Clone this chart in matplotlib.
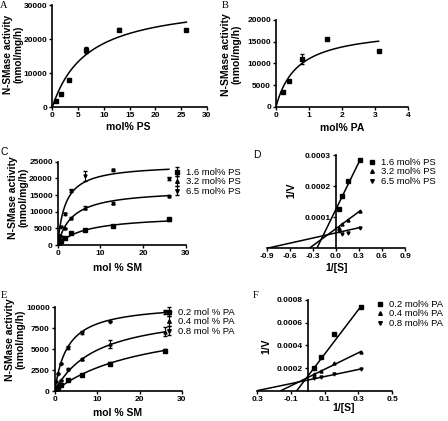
import matplotlib
matplotlib.use('Agg')
import matplotlib.pyplot as plt
import numpy as np

plt.rcParams['font.family'] = ['Liberation Sans', 'DejaVu Sans']

# ---- panel A: activity vs mol% PS
a_x = [0.8, 1.6, 3.2, 6.5, 13, 26]
a_y = [1970, 3930, 7870, 16900, 22800, 22600]
a_err = [150, 150, 200, 900, 350, 350]
a_vmax, a_km = 31500, 6.8

# ---- panel B: activity vs mol% PA
b_x = [0.2, 0.4, 0.78, 1.55, 3.1]
b_y = [3500, 5900, 11000, 15600, 12900]
b_err = [150, 250, 1200, 300, 100]
b_vmax, b_km = 18280, 0.652

# ---- panel C: activity vs mol% SM at three PS levels
sm_x = [0.4, 0.8, 1.6, 3.2, 6.5, 13, 26]
c_labels = ['1.6 mol% PS', '3.2 mol% PS', '6.5 mol% PS']
c_y16 = [700, 1300, 2200, 3500, 4500, 5800, 7700]
c_y32 = [1500, 2800, 5200, 8200, 11200, 12600, 14800]
c_y65 = [2800, 5300, 9300, 16300, 20700, 22400, 19900]
c_err16 = [0, 0, 0, 150, 200, 200, 500]
c_err32 = [0, 0, 0, 200, 400, 300, 200]
c_err65 = [0, 0, 300, 500, 1500, 200, 500]
c_vmax = [9000, 16760, 24300]
c_km = [6.5, 3.4, 1.8]

# ---- panel D: double reciprocal, PS
inv_s = [0.0385, 0.077, 0.154, 0.3125]
d_y16 = [1.26e-4, 1.67e-4, 2.18e-4, 2.83e-4]
d_y32 = [0.66e-4, 0.78e-4, 0.90e-4, 1.20e-4]
d_y65 = [0.55e-4, 0.47e-4, 0.50e-4, 0.66e-4]
d_slope = [5.06e-4, 1.82e-4, 0.552e-4]
d_icept = [1.25e-4, 0.63e-4, 0.495e-4]

# ---- panel E: activity vs mol% SM at three PA levels
e_labels = ['0.2 mol % PA', '0.4 mol % PA', '0.8 mol % PA']
e_y02 = [250, 450, 800, 1350, 1950, 3300, 4850]
e_y04 = [400, 800, 1400, 2700, 3850, 5600, 7100]
e_y08 = [1100, 2100, 3300, 5200, 7000, 8300, 9400]
e_err02 = [0, 0, 0, 100, 100, 150, 200]
e_err04 = [0, 0, 0, 100, 100, 500, 550]
e_err08 = [0, 0, 0, 200, 150, 100, 250]
e_vmax = [9000, 9800, 10480]
e_km = [22, 10, 3.054]

# ---- panel F: double reciprocal, PA
f_labels = ['0.2 mol% PA', '0.4 mol% PA', '0.8 mol% PA']
f_y02 = [2.03e-4, 3.0e-4, 4.97e-4, 7.41e-4]
f_y04 = [1.44e-4, 1.74e-4, 2.47e-4, 3.44e-4]
f_y08 = [1.15e-4, 1.25e-4, 1.45e-4, 1.91e-4]
f_slope = [19.6e-4, 7.3e-4, 3.12e-4]
f_icept = [1.27e-4, 1.16e-4, 0.936e-4]

markers = ['s', '^', 'v']
ylab = 'N-SMase activity\n(nmol/mg/h)'

fig = plt.figure(figsize=(4.48, 4.21), dpi=100)


def px_axes(x0, y0, x1, y1):
    return fig.add_axes([x0 / 448, 1 - y1 / 421, (x1 - x0) / 448, (y1 - y0) / 421])


def style(ax):
    for s in ['top', 'right']:
        ax.spines[s].set_visible(False)
    for s in ['left', 'bottom']:
        ax.spines[s].set_linewidth(1.2)
    ax.tick_params(direction='out', length=2.5, width=1, labelsize=6, pad=1)
    for t in ax.get_xticklabels() + ax.get_yticklabels():
        t.set_fontweight('bold')


def labels(ax, xl, yl, xpos, ypos, ysize=7.5):
    ax.set_xlabel(xl, fontsize=7.5, fontweight='bold', va='center')
    ax.xaxis.set_label_coords(*xpos)
    ax.set_ylabel(yl, fontsize=ysize, fontweight='bold', va='center', linespacing=1.05)
    ax.yaxis.set_label_coords(*ypos)


def mm(x, vmax, km):
    return vmax * x / (km + x)


def legend(ax, x, y):
    ax.legend(loc='upper left', bbox_to_anchor=(x / 448, 1 - y / 421), bbox_transform=fig.transFigure,
              frameon=False, fontsize=6.8, handlelength=0.6, handletextpad=0.7, labelspacing=0.05,
              borderpad=0, borderaxespad=0, markerscale=1.2)


# A
ax = px_axes(52.3, 5, 207, 107.3)
xx = np.linspace(0, 26, 200)
ax.plot(xx, mm(xx, a_vmax, a_km), color='black', lw=1.1)
ax.errorbar(a_x, a_y, yerr=a_err, fmt='s', ms=2.2, color='black', capsize=1.5, elinewidth=0.8)
ax.set_xlim(0, 30)
ax.set_ylim(0, 30000)
ax.set_xticks(range(0, 31, 5))
ax.set_yticks([0, 10000, 20000, 30000])
labels(ax, 'mol% PS', ylab, (0.49, -0.193), (-0.252, 0.52), ysize=7.2)
style(ax)

# B
ax = px_axes(276, 20, 408.3, 106.7)
xx = np.linspace(0, 3.1, 200)
ax.plot(xx, mm(xx, b_vmax, b_km), color='black', lw=1.1)
ax.errorbar(b_x, b_y, yerr=b_err, fmt='s', ms=2.2, color='black', capsize=1.5, elinewidth=0.8)
ax.set_xlim(0, 4)
ax.set_ylim(0, 20000)
ax.set_xticks(range(0, 5))
ax.set_yticks(range(0, 20001, 5000))
labels(ax, 'mol% PA', ylab, (0.5, -0.249), (-0.34, 0.6))
style(ax)

# C
ax = px_axes(57.7, 161.7, 186, 245)
xx = np.linspace(0, 26, 200)
for ys, es, vm, km, mk, lb in zip([c_y16, c_y32, c_y65], [c_err16, c_err32, c_err65],
                                  c_vmax, c_km, markers, c_labels):
    ax.plot(xx, mm(xx, vm, km), color='black', lw=1.1)
    ax.errorbar(sm_x, ys, yerr=es, fmt=mk, ms=2.2, color='black', capsize=1.5,
                elinewidth=0.8, label=lb)
ax.set_xlim(0, 30)
ax.set_ylim(0, 25000)
ax.set_xticks([0, 10, 20, 30])
ax.set_yticks(range(0, 25001, 5000))
labels(ax, 'mol % SM', ylab, (0.47, -0.272), (-0.305, 0.57))
style(ax)
legend(ax, 174, 168)

# D
ax = px_axes(266.7, 155, 405, 248.3)
for ys, m, b, mk, lb in zip([d_y16, d_y32, d_y65], d_slope, d_icept, markers, c_labels):
    x0 = -b / m
    ax.plot([x0, inv_s[-1]], [0, m * inv_s[-1] + b], color='black', lw=1.1)
    ax.plot(inv_s, ys, mk, ms=2.2, color='black', label=lb)
ax.set_xlim(-0.9, 0.9)
ax.set_ylim(0, 0.0003)
ax.spines['left'].set_position(('data', 0))
ax.set_xticks([-0.9, -0.6, -0.3, 0, 0.3, 0.6, 0.9])
ax.set_xticklabels(['-0.9', '-0.6', '-0.3', '0.0', '0.3', '0.6', '0.9'])
ax.set_yticks([0.0001, 0.0002, 0.0003])
ax.set_yticklabels(['0.0001', '0.0002', '0.0003'])
labels(ax, '1/[S]', '1/V', (0.506, -0.208), (0.181, 0.625))
style(ax)
legend(ax, 369, 158)

# E
ax = px_axes(54.7, 307.3, 182, 391.3)
for ys, es, vm, km, mk, lb in zip([e_y02, e_y04, e_y08], [e_err02, e_err04, e_err08],
                                  e_vmax, e_km, markers, e_labels):
    ax.plot(xx, mm(xx, vm, km), color='black', lw=1.1)
    ax.errorbar(sm_x, ys, yerr=es, fmt=mk, ms=2.2, color='black', capsize=1.5,
                elinewidth=0.8, label=lb)
ax.set_xlim(0, 30)
ax.set_ylim(0, 10000)
ax.set_xticks([0, 10, 20, 30])
ax.set_yticks(range(0, 10001, 2500))
labels(ax, 'mol % SM', ylab, (0.49, -0.262), (-0.308, 0.62))
style(ax)
legend(ax, 166, 308)

# F
ax = px_axes(257, 300, 392.3, 390.7)
for ys, m, b, mk, lb in zip([f_y02, f_y04, f_y08], f_slope, f_icept, markers, f_labels):
    x0 = -b / m
    ax.plot([x0, inv_s[-1]], [0, m * inv_s[-1] + b], color='black', lw=1.1)
    ax.plot(inv_s, ys, mk, ms=2.2, color='black', label=lb)
ax.set_xlim(-0.3, 0.5)
ax.set_ylim(0, 0.0008)
ax.spines['left'].set_position(('data', 0))
ax.set_xticks([-0.3, -0.1, 0.1, 0.3, 0.5])
ax.set_xticklabels(['0.3', '-0.1', '0.1', '0.3', '0.5'])
ax.set_yticks([0.0002, 0.0004, 0.0006, 0.0008])
ax.set_yticklabels(['0.0002', '0.0004', '0.0006', '0.0008'])
labels(ax, '1/[S]', '1/V', (0.638, -0.194), (0.072, 0.485))
style(ax)
legend(ax, 377, 300)

# panel letters
serif = ['Liberation Serif', 'DejaVu Serif']
for ch, x, y, fam in [('A', 4, 5, serif), ('B', 225, 5, serif), ('C', 4, 152, None),
                      ('D', 257, 155, None), ('E', 4, 296, serif), ('F', 256, 295, serif)]:
    kw = {'family': fam} if fam else {}
    fig.text(x / 448, 1 - y / 421, ch, fontsize=7.5, ha='center', va='center', **kw)

fig.savefig('out.png', dpi=100)
